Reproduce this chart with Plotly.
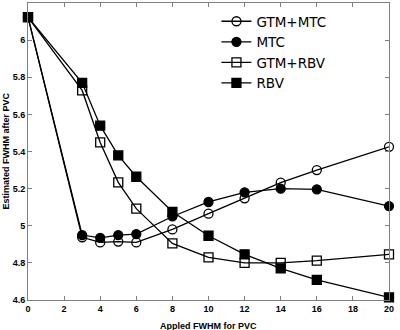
import plotly.graph_objects as go

x_vals = [0, 3, 4, 5, 6, 8, 10, 12, 14, 16, 20]
gtm_mtc = [6.124, 4.938, 4.91, 4.915, 4.91, 4.98, 5.065, 5.148, 5.232, 5.30, 5.425]
mtc = [6.124, 4.95, 4.935, 4.95, 4.955, 5.05, 5.128, 5.18, 5.20, 5.196, 5.106]
gtm_rbv = [6.124, 5.729, 5.449, 5.234, 5.092, 4.905, 4.83, 4.80, 4.80, 4.812, 4.846]
rbv = [6.124, 5.77, 5.539, 5.379, 5.264, 5.075, 4.946, 4.846, 4.77, 4.708, 4.614]

series = [
    ("GTM+MTC", gtm_mtc, "circle-open"),
    ("MTC", mtc, "circle"),
    ("GTM+RBV", gtm_rbv, "square-open"),
    ("RBV", rbv, "square"),
]

fig = go.Figure()
for name, ys, sym in series:
    fig.add_trace(go.Scatter(
        x=x_vals, y=ys, name=name, mode="lines+markers", cliponaxis=False,
        line=dict(color="black", width=1.3),
        marker=dict(symbol=sym, size=9, color="black", line=dict(color="black", width=1.3)),
    ))

axis_common = dict(
    showline=True, linecolor="#808080", linewidth=1, mirror="ticks",
    ticks="inside", ticklen=4, tickcolor="#808080",
    showgrid=False, zeroline=False,
    tickfont=dict(family="Liberation Sans", size=9, color="black", weight="bold"),
)

fig.update_layout(
    width=400, height=330,
    margin=dict(l=28, r=11, t=3, b=30),
    plot_bgcolor="white", paper_bgcolor="white",
    xaxis=dict(range=[0, 20], tickvals=list(range(0, 21, 2)), **axis_common),
    yaxis=dict(range=[4.6, 6.2], tickvals=[4.6, 4.8, 5, 5.2, 5.4, 5.6, 5.8, 6],
               ticktext=["4.6", "4.8", "5", "5.2", "5.4", "5.6", "5.8", "6"], **axis_common),
    legend=dict(x=0.522, y=0.99, xanchor="left", yanchor="top",
                bgcolor="rgba(0,0,0,0)",
                font=dict(family="DejaVu Sans", size=13.5, color="black"),
                tracegroupgap=0, itemwidth=30),
    showlegend=True,
)

fig.add_annotation(text="Appled FWHM for PVC", xref="paper", yref="paper",
                   x=0.5, y=0, yshift=-26, yanchor="middle", showarrow=False,
                   font=dict(family="Liberation Sans", size=9, color="black", weight="bold"))
fig.add_annotation(text="Estimated FWHM after PVC", xref="paper", yref="paper",
                   x=0, xshift=-23, y=0.5, textangle=-90, xanchor="center", showarrow=False,
                   font=dict(family="Liberation Sans", size=9, color="black", weight="bold"))

fig.write_html("out.html", config={"displayModeBar": False},
               post_script="document.body.style.margin='0';")
